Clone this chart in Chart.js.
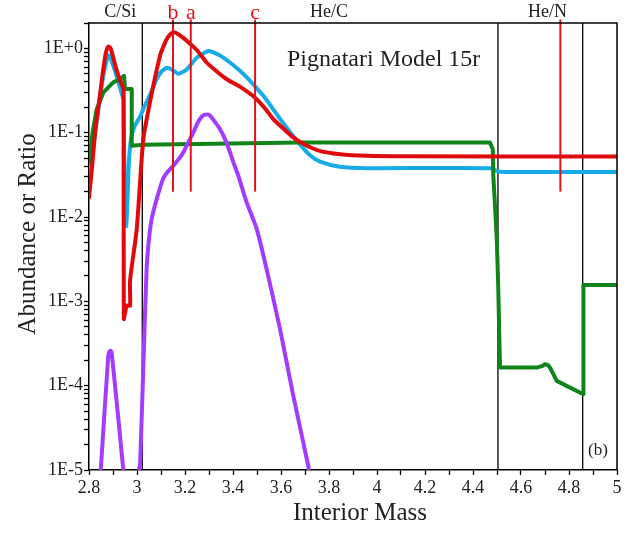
<!DOCTYPE html>
<html>
<head>
<meta charset="utf-8">
<script src="https://cdn.jsdelivr.net/npm/chart.js@4"></script>
<style>
  body { margin: 0; background: #fff; }
  canvas { display: block; }
</style>
</head>
<body>
<canvas id="chart" width="633" height="535"></canvas>
<script>
// Pignatari model 15r abundances
const redMass = [2.800, 2.813, 2.826, 2.840, 2.850, 2.860, 2.870, 2.880, 2.890, 2.900, 2.910, 2.920, 2.935, 2.944, 2.945, 2.957, 2.971, 2.971, 2.999, 3.026, 3.054, 3.075, 3.096, 3.110, 3.124, 3.140, 3.155, 3.170, 3.190, 3.207, 3.250, 3.290, 3.330, 3.374, 3.430, 3.485, 3.530, 3.568, 3.610, 3.651, 3.700, 3.761, 3.846, 3.957, 4.100, 5.000];
const redValue = [0.017, 0.040, 0.105, 0.21, 0.35, 0.58, 0.88, 1.05, 1.0, 0.80, 0.62, 0.50, 0.38, 0.33, 0.00062, 0.00089, 0.00089, 0.00175, 0.0072, 0.083, 0.23, 0.45, 0.82, 1.05, 1.29, 1.48, 1.55, 1.48, 1.35, 1.23, 0.95, 0.68, 0.54, 0.43, 0.35, 0.27, 0.20, 0.145, 0.112, 0.088, 0.072, 0.061, 0.0557, 0.0532, 0.0525, 0.0522];

const blueMass = [2.800, 2.820, 2.840, 2.860, 2.875, 2.882, 2.895, 2.910, 2.922, 2.935, 2.944, 2.950, 2.955, 2.961, 2.966, 2.975, 2.990, 3.013, 3.026, 3.056, 3.080, 3.099, 3.125, 3.150, 3.174, 3.209, 3.250, 3.299, 3.347, 3.417, 3.472, 3.528, 3.597, 3.667, 3.721, 3.763, 3.846, 3.960, 4.475, 4.505, 5.000];
const blueValue = [0.024, 0.075, 0.20, 0.48, 0.75, 0.83, 0.70, 0.52, 0.40, 0.30, 0.24, 0.008, 0.0078, 0.018, 0.044, 0.084, 0.12, 0.155, 0.19, 0.29, 0.42, 0.52, 0.59, 0.55, 0.50, 0.57, 0.78, 0.93, 0.82, 0.58, 0.41, 0.27, 0.145, 0.08, 0.054, 0.0455, 0.0394, 0.038, 0.038, 0.0345, 0.0343];

const greenMass = [2.800, 2.815, 2.832, 2.860, 2.901, 2.929, 2.946, 2.950, 2.978, 2.978, 3.025, 3.679, 4.470, 4.4825, 4.4846, 4.4917, 4.499, 4.505, 4.5125, 4.665, 4.690, 4.700, 4.712, 4.721, 4.749, 4.790, 4.860, 4.860, 5.000];
const greenValue = [0.045, 0.10, 0.19, 0.30, 0.395, 0.432, 0.473, 0.33, 0.33, 0.070, 0.0718, 0.0767, 0.0767, 0.064, 0.0308, 0.0136, 0.0055, 0.00153, 0.000164, 0.000164, 0.000172, 0.00018, 0.000175, 0.000164, 0.000114, 0.0000995, 0.0000793, 0.00156, 0.00156];

const purpleMass1 = [2.846, 2.849, 2.880, 2.885, 2.890, 2.895, 2.943, 2.945];
const purpleValue1 = [0.000007, 0.00001, 0.00022, 0.000255, 0.00026, 0.00024, 0.00001, 0.000008];
const purpleMass2 = [3.006, 3.008, 3.013, 3.026, 3.040, 3.050, 3.061, 3.082, 3.110, 3.130, 3.151, 3.172, 3.193, 3.215, 3.235, 3.255, 3.270, 3.280, 3.300, 3.320, 3.346, 3.370, 3.388, 3.401, 3.422, 3.457, 3.499, 3.540, 3.596, 3.651, 3.714, 3.719];
const purpleValue2 = [0.000007, 0.00001, 0.000012, 0.000158, 0.00241, 0.0055, 0.0094, 0.0163, 0.029, 0.035, 0.0405, 0.048, 0.0584, 0.078, 0.101, 0.135, 0.155, 0.163, 0.163, 0.14, 0.110, 0.08, 0.058, 0.045, 0.031, 0.0149, 0.0072, 0.00241, 0.000468, 0.000076, 0.000011, 0.000008];

// zone boundaries and sample markers
const zoneEdges = [3.022, 4.504, 4.857];
const zoneNames = ['C/Si', 'He/C', 'He/N'];
const zoneNameMass = [2.93, 3.80, 4.71];
const markerMass = [3.150, 3.224, 3.492, 4.764];
const markerNames = ['b', 'a', 'c', ''];
const markerLow = 0.02;

const yMin = 1e-5, yMax = 2;
const xMin = 2.8, xMax = 5.0;

function pts(xs, ys) {
  return xs.map((x, i) => ({ x: x, y: ys[i] }));
}

function curve(xs, ys, color, tension) {
  return {
    data: pts(xs, ys),
    borderColor: color,
    borderWidth: 4,
    pointRadius: 0,
    tension: tension,
    clip: 0,
    borderJoinStyle: 'round',
    borderCapStyle: 'round'
  };
}

const datasets = [];
// markers (red thin lines)
markerMass.forEach(m => {
  datasets.push({
    data: [{ x: m, y: markerLow }, { x: m, y: 2.2 }],
    borderColor: '#e0141c',
    borderWidth: 2,
    pointRadius: 0,
    clip: false
  });
});
datasets.push(curve(redMass, redValue, '#e00a0a', 0.2));
datasets.push(curve(purpleMass1, purpleValue1, '#a43cff', 0.2));
datasets.push(curve(purpleMass2, purpleValue2, '#a43cff', 0.2));
datasets.push(curve(greenMass, greenValue, '#0f8418', 0));
datasets.push(curve(blueMass, blueValue, '#18ace6', 0.2));
zoneEdges.forEach(m => {
  datasets.push({
    data: [{ x: m, y: yMin }, { x: m, y: yMax }],
    borderColor: '#000',
    borderWidth: 1.3,
    pointRadius: 0,
    clip: false
  });
});

// frame on top/right plus the text annotations
const extras = {
  id: 'extras',
  afterDraw(chart) {
    const { ctx, chartArea: a, scales } = chart;
    const xs = scales.x;
    ctx.save();
    ctx.strokeStyle = '#000';
    ctx.lineWidth = 1.5;
    ctx.beginPath();
    ctx.moveTo(a.left, a.top);
    ctx.lineTo(a.right, a.top);
    ctx.lineTo(a.right, a.bottom);
    ctx.stroke();

    ctx.textAlign = 'center';
    ctx.textBaseline = 'alphabetic';
    ctx.fillStyle = '#222';
    ctx.font = '18px "Liberation Serif"';
    zoneNames.forEach((t, i) => ctx.fillText(t, xs.getPixelForValue(zoneNameMass[i]), 17));

    ctx.fillStyle = '#e0141c';
    ctx.font = '22px "Liberation Serif"';
    markerNames.forEach((t, i) => { if (t) ctx.fillText(t, xs.getPixelForValue(markerMass[i]), 19); });

    ctx.fillStyle = '#222';
    ctx.textAlign = 'left';
    ctx.font = '24px "Liberation Serif"';
    ctx.fillText('Pignatari Model 15r', 287, 66);
    ctx.font = '17px "Liberation Serif"';
    ctx.fillText('(b)', 588, 455);

    // axis titles
    ctx.textAlign = 'center';
    ctx.font = '25px "Liberation Serif"';
    ctx.fillText('Interior Mass', 360, 520);
    ctx.translate(35, 234);
    ctx.rotate(-Math.PI / 2);
    ctx.fillText('Abundance or Ratio', 0, 0);
    ctx.restore();
  }
};

Chart.defaults.font.family = '"Liberation Serif", serif';
Chart.defaults.color = '#222';

new Chart(document.getElementById('chart'), {
  type: 'line',
  data: { datasets: datasets },
  options: {
    responsive: false,
    animation: false,
    devicePixelRatio: 1,
    layout: { padding: { left: 0, right: 16, top: 23, bottom: 0 } },
    plugins: { legend: { display: false }, tooltip: { enabled: false } },
    scales: {
      x: {
        type: 'linear',
        min: xMin,
        max: xMax,
        afterBuildTicks: (scale) => {
          const t = [];
          for (let k = 28; k <= 50; k++) t.push({ value: k / 10 });
          scale.ticks = t;
        },
        afterFit: (scale) => { scale.height = 65; },
        ticks: {
          autoSkip: false,
          maxRotation: 0,
          padding: 2,
          color: '#222',
          font: { size: 18 },
          callback: (v) => (Math.round(v * 10) % 2 === 0 ? String(Math.round(v * 10) / 10) : '')
        },
        grid: { drawOnChartArea: false, drawTicks: true, tickLength: 5, color: '#000', tickWidth: 1.3 },
        border: { display: true, color: '#000', width: 1.5 }
      },
      y: {
        type: 'logarithmic',
        min: yMin,
        max: yMax,
        afterBuildTicks: (scale) => {
          const t = [];
          for (let e = -5; e <= 0; e++) {
            for (let m = 1; m <= 9; m++) {
              const v = m * Math.pow(10, e);
              if (v <= yMax * 1.0001) t.push({ value: v });
            }
          }
          scale.ticks = t;
        },
        afterFit: (scale) => { scale.width = 89; },
        ticks: {
          autoSkip: false,
          padding: 1,
          color: '#222',
          font: { size: 18 },
          callback: (v) => {
            const e = Math.log10(v);
            if (Math.abs(e - Math.round(e)) > 1e-6) return '';
            const n = Math.round(e);
            return '1E' + (n >= 0 ? '+' : '-') + Math.abs(n);
          }
        },
        grid: { drawOnChartArea: false, drawTicks: true, tickLength: 5, color: '#000', tickWidth: 1.3 },
        border: { display: true, color: '#000', width: 1.5 }
      }
    }
  },
  plugins: [extras]
});
</script>
</body>
</html>
